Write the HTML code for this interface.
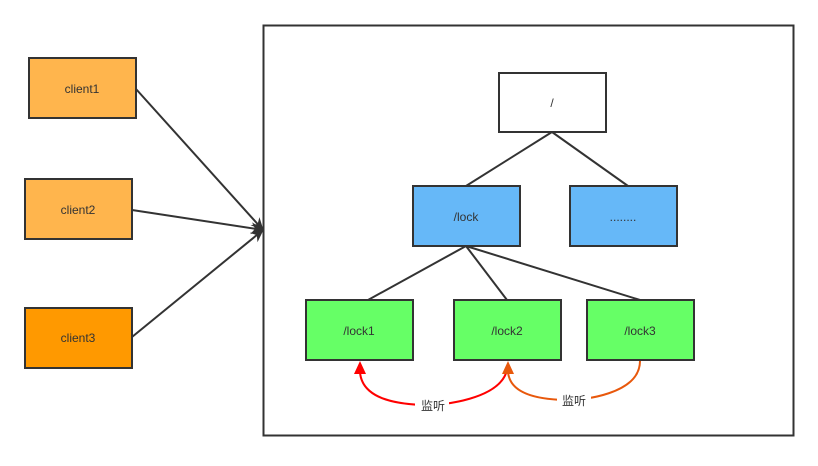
<!DOCTYPE html>
<html><head><style>body{margin:0;background:#fff}</style></head><body>
<svg width="818" height="461" xmlns="http://www.w3.org/2000/svg" font-family="Liberation Sans, Noto Sans CJK SC, sans-serif" font-size="12" fill="#333">
<defs>
<marker id="a" markerWidth="14" markerHeight="14" refX="12" refY="6" orient="auto" markerUnits="userSpaceOnUse"><path d="M0,0 L13,6 L0,12 L4,6z" fill="#333"/></marker>
</defs>
<rect x="263.5" y="25.5" width="530" height="410" fill="#fff" stroke="#333" stroke-width="2"/>
<g stroke="#333" stroke-width="2">
<rect x="29" y="58" width="107" height="60" fill="#ffb54d"/>
<rect x="25" y="179" width="107" height="60" fill="#ffb54d"/>
<rect x="25" y="308" width="107" height="60" fill="#ff9900"/>
<line x1="136" y1="89" x2="263" y2="230" marker-end="url(#a)"/>
<line x1="132" y1="210" x2="263" y2="230" marker-end="url(#a)"/>
<line x1="132" y1="337" x2="263" y2="230" marker-end="url(#a)"/>
<line x1="552" y1="132" x2="466" y2="186"/>
<line x1="552" y1="132" x2="628" y2="186"/>
<line x1="466" y1="246" x2="368" y2="300"/>
<line x1="466" y1="246" x2="507" y2="300"/>
<line x1="466" y1="246" x2="640" y2="300"/>
<rect x="499" y="73" width="107" height="59" fill="#fff"/>
<rect x="413" y="186" width="107" height="60" fill="#66b8f8"/>
<rect x="570" y="186" width="107" height="60" fill="#66b8f8"/>
<rect x="306" y="300" width="107" height="60" fill="#66ff66"/>
<rect x="454" y="300" width="107" height="60" fill="#66ff66"/>
<rect x="587" y="300" width="107" height="60" fill="#66ff66"/>
</g>
<path d="M507,370 C500,400 440,405 430,405 C400,405 362,400 360,372" fill="none" stroke="#f00" stroke-width="2"/>
<path d="M360,361 L354,374 L366,374z" fill="#f00"/>
<path d="M640,361 C640,395 580,400 570,400 C540,400 510,395 508,372" fill="none" stroke="#e8580c" stroke-width="2"/>
<path d="M508,361 L502,374 L514,374z" fill="#e8580c"/>
<g text-anchor="middle">
<text x="82" y="93">client1</text><text x="78" y="214">client2</text><text x="78" y="342">client3</text>
<text x="552" y="107">/</text><text x="466" y="221">/lock</text><text x="623" y="221">........</text>
<text x="359" y="335">/lock1</text><text x="507" y="335">/lock2</text><text x="640" y="335">/lock3</text>
<rect x="415" y="397" width="34" height="16" fill="#fff"/><text x="433" y="410">监听</text>
<rect x="557" y="392" width="34" height="16" fill="#fff"/><text x="574" y="405">监听</text>
</g>
</svg>
</body></html>
